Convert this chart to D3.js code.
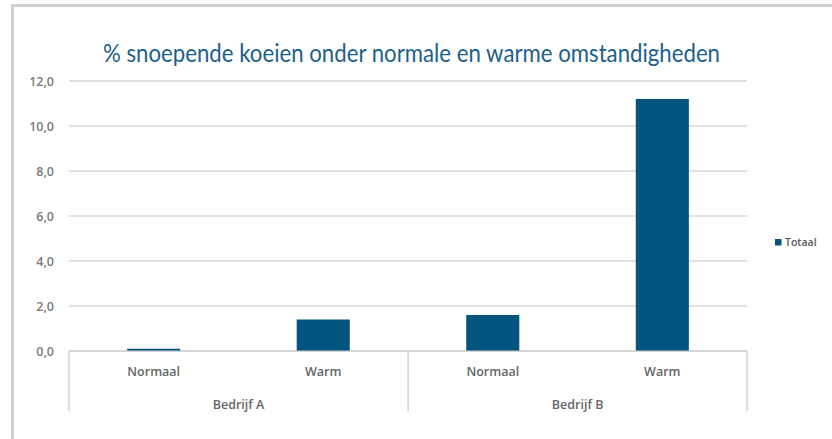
<!DOCTYPE html>
<html><head><meta charset="utf-8">
<script src="https://cdn.jsdelivr.net/npm/d3@7"></script>
<style>body{margin:0;background:#fff}svg{display:block}</style>
</head><body>
<svg id="c" width="832" height="439"></svg>
<script>
const groups = ["Bedrijf A", "Bedrijf B"];
const conditions = ["Normaal", "Warm"];
const values = [0.1, 1.4, 1.6, 11.2];
const yTicks = [0, 2, 4, 6, 8, 10, 12];
const seriesName = "Totaal";
const title = "% snoepende koeien onder normale en warme omstandigheden";

(function () {
const svg = d3.select("#c");
const barColor = "#03557f";
svg.append("rect").attr("x", 12.5).attr("y", 5.5).attr("width", 840).attr("height", 460)
  .attr("fill", "none").attr("stroke", "#d0d0d0").attr("stroke-width", 3);

const pL = 69, pR = 747, pT = 81, pB = 351;
const cats = [];
groups.forEach(g => conditions.forEach(c => cats.push(g + "|" + c)));
const x = d3.scaleBand().domain(cats).range([pL, pR]).paddingInner(0.687).paddingOuter(0.343);
const y = d3.scaleLinear().domain([0, 12]).range([pB, pT]);

svg.append("g").selectAll("line").data(yTicks).join("line")
  .attr("x1", pL).attr("x2", pR).attr("y1", d => y(d)).attr("y2", d => y(d))
  .attr("stroke", "#d9d9d9").attr("stroke-width", 1.5);

const fmt = d => d3.format(".1f")(d).replace(".", ",");
svg.append("g").selectAll("text").data(yTicks).join("text")
  .attr("x", 54).attr("y", d => y(d)).attr("dy", "0.36em").attr("text-anchor", "end")
  .attr("font-family", "Open Sans, sans-serif").attr("font-size", 12.5).attr("font-weight", 600)
  .attr("fill", "#7a7a7a").text(fmt);

svg.append("g").selectAll("rect").data(values).join("rect")
  .attr("x", (d, i) => x(cats[i])).attr("width", x.bandwidth())
  .attr("y", d => y(d)).attr("height", d => y(0) - y(d)).attr("fill", barColor);

const step = x.step();
const ax = svg.append("g").attr("stroke", "#c8c8c8").attr("stroke-width", 1.2);
ax.append("line").attr("x1", pL).attr("x2", pR).attr("y1", pB).attr("y2", pB);
const sepX = [pL, pL + step * conditions.length, pR];
ax.selectAll("line.sep").data(sepX).join("line").attr("class", "sep")
  .attr("x1", d => d).attr("x2", d => d).attr("y1", pB).attr("y2", 411);

svg.append("g").selectAll("text").data(cats).join("text")
  .attr("x", d => x(d) + x.bandwidth() / 2).attr("y", 376).attr("text-anchor", "middle")
  .attr("font-family", "Open Sans, sans-serif").attr("font-size", 12.5).attr("font-weight", 600)
  .attr("fill", "#666666").text(d => d.split("|")[1]);

svg.append("g").selectAll("text").data(groups).join("text")
  .attr("x", (d, i) => pL + step * conditions.length * (i + 0.5)).attr("y", 409).attr("text-anchor", "middle")
  .attr("font-family", "Open Sans, sans-serif").attr("font-size", 12.5).attr("font-weight", 600)
  .attr("fill", "#666666").text(d => d);

svg.append("text").attr("x", 411.5).attr("y", 62).attr("text-anchor", "middle")
  .attr("font-family", "Lato, sans-serif").attr("font-size", 25)
  .attr("textLength", 617).attr("lengthAdjust", "spacingAndGlyphs")
  .attr("fill", "#1b5f8c").text(title);

svg.append("rect").attr("x", 775).attr("y", 239).attr("width", 6.5).attr("height", 6.5).attr("fill", barColor);
svg.append("text").attr("x", 785).attr("y", 242.5).attr("dy", "0.35em")
  .attr("font-family", "Open Sans, sans-serif").attr("font-size", 10.5).attr("font-weight", 600)
  .attr("fill", "#595959").text(seriesName);
})();
</script>
</body></html>
